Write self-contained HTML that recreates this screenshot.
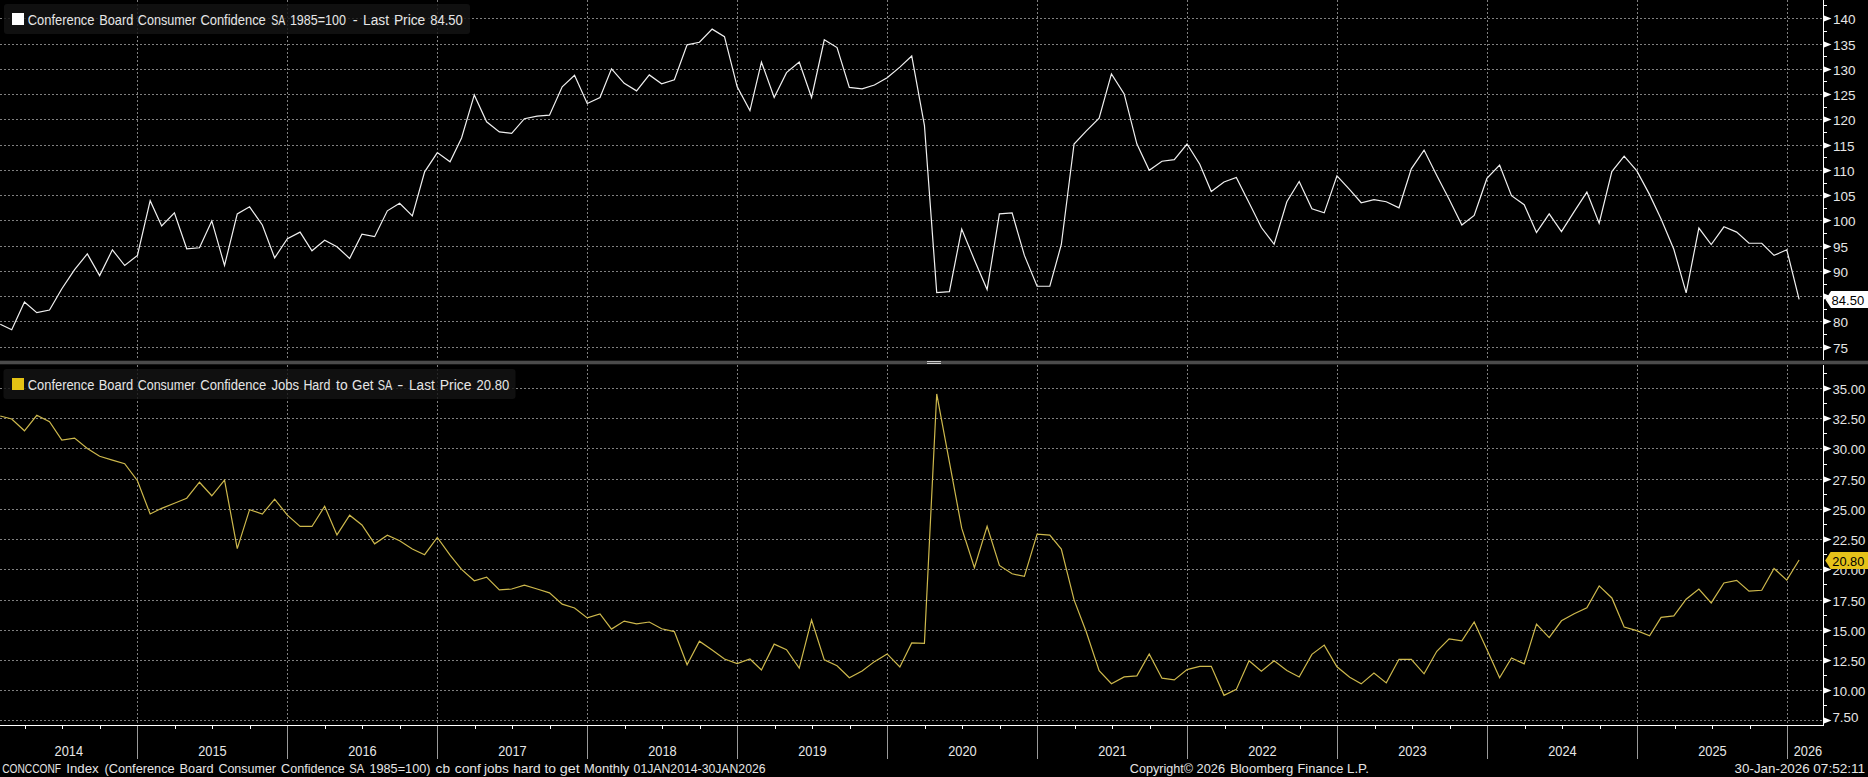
<!DOCTYPE html>
<html><head><meta charset="utf-8"><title>Bloomberg chart</title>
<style>html,body{margin:0;padding:0;background:#000;} svg{display:block;} text{font-family:"Liberation Sans", sans-serif;}</style>
</head><body>
<svg width="1868" height="777" viewBox="0 0 1868 777">
<rect x="0" y="0" width="1868" height="777" fill="#000"/>

<path d="M0 18.5H1823 M0 44.5H1823 M0 69.5H1823 M0 94.5H1823 M0 119.5H1823 M0 145.5H1823 M0 170.5H1823 M0 195.5H1823 M0 220.5H1823 M0 246.5H1823 M0 271.5H1823 M0 296.5H1823 M0 321.5H1823 M0 347.5H1823 M0 388.5H1823 M0 418.5H1823 M0 448.5H1823 M0 479.5H1823 M0 509.5H1823 M0 539.5H1823 M0 569.5H1823 M0 600.5H1823 M0 630.5H1823 M0 660.5H1823 M0 690.5H1823 M0 720.5H1823" stroke="#808080" stroke-width="1" stroke-dasharray="2 2" fill="none"/>
<path d="M137.5 0V360 M137.5 365V725 M287.5 0V360 M287.5 365V725 M437.5 0V360 M437.5 365V725 M587.5 0V360 M587.5 365V725 M737.5 0V360 M737.5 365V725 M887.5 0V360 M887.5 365V725 M1037.5 0V360 M1037.5 365V725 M1187.5 0V360 M1187.5 365V725 M1337.5 0V360 M1337.5 365V725 M1487.5 0V360 M1487.5 365V725 M1637.5 0V360 M1637.5 365V725 M1787.5 0V360 M1787.5 365V725" stroke="#808080" stroke-width="1" stroke-dasharray="2 2" fill="none"/>
<rect x="4" y="4" width="466" height="30" rx="3" fill="#141414" fill-opacity="0.82"/>
<rect x="3.5" y="369" width="512" height="30" rx="3" fill="#141414" fill-opacity="0.82"/>
<rect x="12" y="13" width="12" height="12" fill="#ffffff"/>
<text x="27.8" y="24.5" font-size="14" fill="#e6e6e6" textLength="66.7" lengthAdjust="spacingAndGlyphs">Conference</text><text x="99.2" y="24.5" font-size="14" fill="#e6e6e6" textLength="34.1" lengthAdjust="spacingAndGlyphs">Board</text><text x="137.8" y="24.5" font-size="14" fill="#e6e6e6" textLength="58.2" lengthAdjust="spacingAndGlyphs">Consumer</text><text x="200.4" y="24.5" font-size="14" fill="#e6e6e6" textLength="65.4" lengthAdjust="spacingAndGlyphs">Confidence</text><text x="271.2" y="24.5" font-size="14" fill="#e6e6e6" textLength="14.0" lengthAdjust="spacingAndGlyphs">SA</text><text x="289.9" y="24.5" font-size="14" fill="#e6e6e6" textLength="56.0" lengthAdjust="spacingAndGlyphs">1985=100</text><text x="352.7" y="24.5" font-size="14" fill="#e6e6e6" textLength="4.9" lengthAdjust="spacingAndGlyphs">-</text><text x="363.1" y="24.5" font-size="14" fill="#e6e6e6" textLength="25.9" lengthAdjust="spacingAndGlyphs">Last</text><text x="393.9" y="24.5" font-size="14" fill="#e6e6e6" textLength="31.4" lengthAdjust="spacingAndGlyphs">Price</text><text x="430.2" y="24.5" font-size="14" fill="#e6e6e6" textLength="32.6" lengthAdjust="spacingAndGlyphs">84.50</text>
<rect x="12" y="378" width="12" height="12" fill="#e3c214"/>
<text x="27.8" y="389.5" font-size="14" fill="#e6e6e6" textLength="66.6" lengthAdjust="spacingAndGlyphs">Conference</text><text x="98.7" y="389.5" font-size="14" fill="#e6e6e6" textLength="34.4" lengthAdjust="spacingAndGlyphs">Board</text><text x="137.7" y="389.5" font-size="14" fill="#e6e6e6" textLength="57.6" lengthAdjust="spacingAndGlyphs">Consumer</text><text x="200.3" y="389.5" font-size="14" fill="#e6e6e6" textLength="65.9" lengthAdjust="spacingAndGlyphs">Confidence</text><text x="271.4" y="389.5" font-size="14" fill="#e6e6e6" textLength="27.6" lengthAdjust="spacingAndGlyphs">Jobs</text><text x="303.4" y="389.5" font-size="14" fill="#e6e6e6" textLength="26.9" lengthAdjust="spacingAndGlyphs">Hard</text><text x="336.1" y="389.5" font-size="14" fill="#e6e6e6" textLength="11.6" lengthAdjust="spacingAndGlyphs">to</text><text x="352.1" y="389.5" font-size="14" fill="#e6e6e6" textLength="21.4" lengthAdjust="spacingAndGlyphs">Get</text><text x="377.8" y="389.5" font-size="14" fill="#e6e6e6" textLength="14.5" lengthAdjust="spacingAndGlyphs">SA</text><text x="397.3" y="389.5" font-size="14" fill="#e6e6e6" textLength="6.1" lengthAdjust="spacingAndGlyphs">-</text><text x="409.1" y="389.5" font-size="14" fill="#e6e6e6" textLength="25.6" lengthAdjust="spacingAndGlyphs">Last</text><text x="439.8" y="389.5" font-size="14" fill="#e6e6e6" textLength="31.8" lengthAdjust="spacingAndGlyphs">Price</text><text x="476.6" y="389.5" font-size="14" fill="#e6e6e6" textLength="32.6" lengthAdjust="spacingAndGlyphs">20.80</text>
<svg x="0" y="0" width="1823" height="360" overflow="hidden"><polyline points="0.23,324.22 11.73,329.78 24.47,301.95 36.79,312.58 49.52,310.04 61.85,288.79 74.58,269.55 87.32,253.86 99.64,275.63 112.38,249.81 124.70,265.50 137.44,255.38 150.17,200.72 161.67,226.02 174.41,212.86 186.73,248.80 199.47,247.79 211.79,220.96 224.52,265.50 237.26,213.88 249.58,206.79 262.32,225.01 274.64,257.91 287.38,238.68 300.08,232.10 311.96,250.82 324.66,240.20 336.95,246.78 349.65,258.42 361.94,234.12 374.64,236.65 387.34,210.84 399.63,203.25 412.33,215.90 424.62,171.86 437.32,152.63 450.05,161.74 461.56,137.95 474.29,94.93 486.61,121.76 499.35,131.88 511.67,133.40 524.41,118.72 537.14,116.19 549.47,115.18 562.20,86.83 574.53,75.19 587.26,103.53 600.00,97.46 611.50,68.86 624.23,83.29 636.56,90.88 649.29,74.94 661.61,83.79 674.35,79.74 687.08,44.82 699.41,42.29 712.14,29.13 724.47,36.72 737.20,86.83 749.94,110.62 761.44,62.03 774.17,97.46 786.50,72.66 799.23,62.03 811.56,97.46 824.29,39.76 837.03,47.60 849.35,87.34 862.09,88.86 874.41,85.06 887.14,77.72 899.85,67.09 911.73,55.96 924.43,125.30 936.72,292.58 949.42,291.57 961.71,229.06 974.41,259.94 987.11,289.55 999.40,213.88 1012.10,212.86 1024.39,255.38 1037.09,286.26 1049.82,286.26 1061.32,244.50 1074.06,144.03 1086.38,130.87 1099.12,118.21 1111.44,73.92 1124.17,93.92 1136.91,144.03 1149.23,170.35 1161.97,161.24 1174.29,159.72 1187.03,144.03 1199.76,164.27 1211.26,191.60 1224.00,181.99 1236.32,177.43 1249.06,202.74 1261.38,227.54 1274.12,244.24 1286.85,201.73 1299.18,181.48 1311.91,208.81 1324.23,212.86 1336.97,175.91 1349.70,189.58 1361.21,202.74 1373.94,199.70 1386.26,201.73 1399.00,207.80 1411.32,168.83 1424.06,150.10 1436.79,175.41 1449.12,199.20 1461.85,225.01 1474.18,215.39 1486.91,178.44 1499.61,165.03 1511.49,195.65 1524.19,204.76 1536.48,232.60 1549.18,213.88 1561.47,231.59 1574.17,211.60 1586.87,192.11 1599.16,223.24 1611.86,171.61 1624.15,156.17 1636.85,170.85 1649.59,194.64 1661.09,218.94 1673.82,249.31 1686.15,292.84 1698.88,228.05 1711.21,244.50 1723.94,226.78 1736.68,232.10 1749.00,243.23 1761.74,243.23 1774.06,255.38 1786.79,249.81 1799.12,299.42" fill="none" stroke="#f0f0f0" stroke-width="1.2" stroke-linejoin="miter"/></svg>
<svg x="0" y="365" width="1823" height="360" overflow="hidden"><g transform="translate(0,-365)"><polyline points="0.23,416.04 11.73,418.94 24.47,430.78 36.79,415.32 49.52,421.60 61.85,440.08 74.58,438.15 87.32,448.42 99.64,456.27 112.38,460.13 124.70,463.76 137.44,480.67 150.17,514.01 161.67,508.33 174.41,503.26 186.73,498.19 199.47,482.24 211.79,495.77 224.52,480.07 237.26,548.68 249.58,509.66 262.32,514.01 274.64,499.15 287.38,515.10 300.08,526.45 311.96,526.45 324.66,506.28 336.95,534.91 349.65,515.22 361.94,525.00 374.64,543.85 387.34,535.27 399.63,540.71 412.33,549.04 424.62,554.72 437.32,537.45 450.05,555.20 461.56,569.34 474.29,580.81 486.61,577.07 499.35,589.87 511.67,589.03 524.41,585.16 537.14,589.03 549.47,592.89 562.20,604.13 574.53,607.99 587.26,617.90 600.00,613.91 611.50,629.13 624.23,621.04 636.56,623.82 649.29,622.01 661.61,628.77 674.35,631.55 687.08,664.77 699.41,641.21 712.14,649.91 724.47,658.97 737.20,663.56 749.94,658.97 761.44,669.96 774.17,644.11 786.50,649.67 799.23,668.03 811.56,619.95 824.29,659.82 837.03,665.74 849.35,677.70 862.09,670.93 874.41,661.63 887.14,653.90 899.85,666.94 911.73,642.90 924.43,643.39 936.72,393.94 949.42,462.19 961.71,528.14 974.41,567.65 987.11,526.21 999.40,565.47 1012.10,573.81 1024.39,576.34 1037.09,534.06 1049.82,535.15 1061.32,549.04 1074.06,599.90 1086.38,632.27 1099.12,670.57 1111.44,683.74 1124.17,676.85 1136.91,675.88 1149.23,653.90 1161.97,678.18 1174.29,679.87 1187.03,669.60 1199.76,666.34 1211.26,666.34 1224.00,695.33 1236.32,689.41 1249.06,660.78 1261.38,671.17 1274.12,660.78 1286.85,670.57 1299.18,676.97 1311.91,654.38 1324.23,645.08 1336.97,666.82 1349.70,677.33 1361.21,683.86 1373.94,673.10 1386.26,682.89 1399.00,659.33 1411.32,659.33 1424.06,673.83 1436.79,651.24 1449.12,638.80 1461.85,640.85 1474.18,622.01 1486.91,649.43 1499.61,677.70 1511.49,658.00 1524.19,663.80 1536.48,624.06 1549.18,637.59 1561.47,620.80 1574.17,613.79 1586.87,607.87 1599.16,585.89 1611.86,597.97 1624.15,626.96 1636.85,630.58 1649.59,635.78 1661.09,617.42 1673.82,615.97 1686.15,599.18 1698.88,589.03 1711.21,602.92 1723.94,582.99 1736.68,580.33 1749.00,591.08 1761.74,590.24 1774.06,568.49 1786.79,580.09 1799.12,560.04" fill="none" stroke="#cdb84c" stroke-width="1.2" stroke-linejoin="miter"/></g></svg>
<rect x="0" y="360.7" width="1868" height="3.6" fill="#4b4b4b"/>
<rect x="927" y="361" width="14" height="1" fill="#cccccc"/><rect x="927" y="363" width="14" height="1" fill="#cccccc"/>
<rect x="1823" y="0" width="1" height="360" fill="#fff"/>
<rect x="1823" y="365" width="1" height="361" fill="#fff"/>
<path d="M1823 5.5H1827 M1823 31.5H1827 M1823 56.5H1827 M1823 81.5H1827 M1823 107.5H1827 M1823 132.5H1827 M1823 157.5H1827 M1823 183.5H1827 M1823 208.5H1827 M1823 233.5H1827 M1823 258.5H1827 M1823 284.5H1827 M1823 309.5H1827 M1823 334.5H1827 M1823 373.5H1827 M1823 403.5H1827 M1823 433.5H1827 M1823 464.5H1827 M1823 494.5H1827 M1823 524.5H1827 M1823 554.5H1827 M1823 584.5H1827 M1823 615.5H1827 M1823 645.5H1827 M1823 675.5H1827 M1823 705.5H1827" stroke="#fff" stroke-width="1" fill="none"/>
<path d="M1824 15.5L1831.5 18.5L1824 21.5Z M1824 41.5L1831.5 44.5L1824 47.5Z M1824 66.5L1831.5 69.5L1824 72.5Z M1824 91.5L1831.5 94.5L1824 97.5Z M1824 116.5L1831.5 119.5L1824 122.5Z M1824 142.5L1831.5 145.5L1824 148.5Z M1824 167.5L1831.5 170.5L1824 173.5Z M1824 192.5L1831.5 195.5L1824 198.5Z M1824 217.5L1831.5 220.5L1824 223.5Z M1824 243.5L1831.5 246.5L1824 249.5Z M1824 268.5L1831.5 271.5L1824 274.5Z M1824 293.5L1831.5 296.5L1824 299.5Z M1824 318.5L1831.5 321.5L1824 324.5Z M1824 344.5L1831.5 347.5L1824 350.5Z M1824 385.5L1831.5 388.5L1824 391.5Z M1824 415.5L1831.5 418.5L1824 421.5Z M1824 445.5L1831.5 448.5L1824 451.5Z M1824 476.5L1831.5 479.5L1824 482.5Z M1824 506.5L1831.5 509.5L1824 512.5Z M1824 536.5L1831.5 539.5L1824 542.5Z M1824 566.5L1831.5 569.5L1824 572.5Z M1824 597.5L1831.5 600.5L1824 603.5Z M1824 627.5L1831.5 630.5L1824 633.5Z M1824 657.5L1831.5 660.5L1824 663.5Z M1824 687.5L1831.5 690.5L1824 693.5Z M1824 717.5L1831.5 720.5L1824 723.5Z" fill="#fff"/>
<text x="1833.1" y="24.0" font-size="13.5" fill="#e6e6e6">140</text>
<text x="1833.1" y="50.0" font-size="13.5" fill="#e6e6e6">135</text>
<text x="1833.1" y="75.0" font-size="13.5" fill="#e6e6e6">130</text>
<text x="1833.1" y="100.0" font-size="13.5" fill="#e6e6e6">125</text>
<text x="1833.1" y="125.0" font-size="13.5" fill="#e6e6e6">120</text>
<text x="1833.1" y="151.0" font-size="13.5" fill="#e6e6e6">115</text>
<text x="1833.1" y="176.0" font-size="13.5" fill="#e6e6e6">110</text>
<text x="1833.1" y="201.0" font-size="13.5" fill="#e6e6e6">105</text>
<text x="1833.1" y="226.0" font-size="13.5" fill="#e6e6e6">100</text>
<text x="1833.1" y="252.0" font-size="13.5" fill="#e6e6e6">95</text>
<text x="1833.1" y="277.0" font-size="13.5" fill="#e6e6e6">90</text>
<text x="1833.1" y="327.0" font-size="13.5" fill="#e6e6e6">80</text>
<text x="1833.1" y="353.0" font-size="13.5" fill="#e6e6e6">75</text>
<text x="1832.4" y="394.0" font-size="13.5" fill="#e6e6e6" textLength="33.0" lengthAdjust="spacingAndGlyphs">35.00</text>
<text x="1832.4" y="424.0" font-size="13.5" fill="#e6e6e6" textLength="33.0" lengthAdjust="spacingAndGlyphs">32.50</text>
<text x="1832.4" y="454.0" font-size="13.5" fill="#e6e6e6" textLength="33.0" lengthAdjust="spacingAndGlyphs">30.00</text>
<text x="1832.4" y="485.0" font-size="13.5" fill="#e6e6e6" textLength="33.0" lengthAdjust="spacingAndGlyphs">27.50</text>
<text x="1832.4" y="515.0" font-size="13.5" fill="#e6e6e6" textLength="33.0" lengthAdjust="spacingAndGlyphs">25.00</text>
<text x="1832.4" y="545.0" font-size="13.5" fill="#e6e6e6" textLength="33.0" lengthAdjust="spacingAndGlyphs">22.50</text>
<text x="1832.4" y="575.0" font-size="13.5" fill="#e6e6e6" textLength="33.0" lengthAdjust="spacingAndGlyphs">20.00</text>
<text x="1832.4" y="606.0" font-size="13.5" fill="#e6e6e6" textLength="33.0" lengthAdjust="spacingAndGlyphs">17.50</text>
<text x="1832.4" y="636.0" font-size="13.5" fill="#e6e6e6" textLength="33.0" lengthAdjust="spacingAndGlyphs">15.00</text>
<text x="1832.4" y="666.0" font-size="13.5" fill="#e6e6e6" textLength="33.0" lengthAdjust="spacingAndGlyphs">12.50</text>
<text x="1832.4" y="696.0" font-size="13.5" fill="#e6e6e6" textLength="33.0" lengthAdjust="spacingAndGlyphs">10.00</text>
<text x="1832.4" y="721.6" font-size="13.5" fill="#e6e6e6" textLength="26.0" lengthAdjust="spacingAndGlyphs">7.50</text>
<path d="M1825.5 299.5L1831 291H1868V308H1831Z" fill="#ffffff"/>
<text x="1831.6" y="305" font-size="13.5" fill="#000" textLength="32.6" lengthAdjust="spacingAndGlyphs">84.50</text>
<path d="M1825.2 560.5L1830.6 552H1868V569H1830.6Z" fill="#e5c21a"/>
<text x="1832.3" y="565.6" font-size="13.5" fill="#000" textLength="32" lengthAdjust="spacingAndGlyphs">20.80</text>
<rect x="0" y="725" width="1824" height="1" fill="#fff"/>
<path d="M25.5 726V729 M62.5 726V729 M100.5 726V729 M175.5 726V729 M212.5 726V729 M250.5 726V729 M325.5 726V729 M362.5 726V729 M400.5 726V729 M475.5 726V729 M512.5 726V729 M550.5 726V729 M625.5 726V729 M662.5 726V729 M700.5 726V729 M775.5 726V729 M812.5 726V729 M850.5 726V729 M925.5 726V729 M962.5 726V729 M1000.5 726V729 M1075.5 726V729 M1112.5 726V729 M1150.5 726V729 M1225.5 726V729 M1262.5 726V729 M1300.5 726V729 M1375.5 726V729 M1412.5 726V729 M1450.5 726V729 M1525.5 726V729 M1562.5 726V729 M1600.5 726V729 M1675.5 726V729 M1712.5 726V729 M1750.5 726V729" stroke="#fff" stroke-width="1" fill="none"/>
<path d="M137.5 726V759 M287.5 726V759 M437.5 726V759 M587.5 726V759 M737.5 726V759 M887.5 726V759 M1037.5 726V759 M1187.5 726V759 M1337.5 726V759 M1487.5 726V759 M1637.5 726V759 M1787.5 726V759" stroke="#9a9a9a" stroke-width="1" fill="none"/>
<text x="68.8" y="755.7" font-size="13.8" fill="#e6e6e6" text-anchor="middle" textLength="28.5" lengthAdjust="spacingAndGlyphs">2014</text>
<text x="212.5" y="755.7" font-size="13.8" fill="#e6e6e6" text-anchor="middle" textLength="28.5" lengthAdjust="spacingAndGlyphs">2015</text>
<text x="362.5" y="755.7" font-size="13.8" fill="#e6e6e6" text-anchor="middle" textLength="28.5" lengthAdjust="spacingAndGlyphs">2016</text>
<text x="512.5" y="755.7" font-size="13.8" fill="#e6e6e6" text-anchor="middle" textLength="28.5" lengthAdjust="spacingAndGlyphs">2017</text>
<text x="662.5" y="755.7" font-size="13.8" fill="#e6e6e6" text-anchor="middle" textLength="28.5" lengthAdjust="spacingAndGlyphs">2018</text>
<text x="812.5" y="755.7" font-size="13.8" fill="#e6e6e6" text-anchor="middle" textLength="28.5" lengthAdjust="spacingAndGlyphs">2019</text>
<text x="962.5" y="755.7" font-size="13.8" fill="#e6e6e6" text-anchor="middle" textLength="28.5" lengthAdjust="spacingAndGlyphs">2020</text>
<text x="1112.5" y="755.7" font-size="13.8" fill="#e6e6e6" text-anchor="middle" textLength="28.5" lengthAdjust="spacingAndGlyphs">2021</text>
<text x="1262.5" y="755.7" font-size="13.8" fill="#e6e6e6" text-anchor="middle" textLength="28.5" lengthAdjust="spacingAndGlyphs">2022</text>
<text x="1412.5" y="755.7" font-size="13.8" fill="#e6e6e6" text-anchor="middle" textLength="28.5" lengthAdjust="spacingAndGlyphs">2023</text>
<text x="1562.5" y="755.7" font-size="13.8" fill="#e6e6e6" text-anchor="middle" textLength="28.5" lengthAdjust="spacingAndGlyphs">2024</text>
<text x="1712.5" y="755.7" font-size="13.8" fill="#e6e6e6" text-anchor="middle" textLength="28.5" lengthAdjust="spacingAndGlyphs">2025</text>
<text x="1808.0" y="755.7" font-size="13.8" fill="#e6e6e6" text-anchor="middle" textLength="28.5" lengthAdjust="spacingAndGlyphs">2026</text>
<text x="2.2" y="773" font-size="13.5" fill="#e6e6e6" textLength="58.9" lengthAdjust="spacingAndGlyphs">CONCCONF</text><text x="66.2" y="773" font-size="13.5" fill="#e6e6e6" textLength="32.5" lengthAdjust="spacingAndGlyphs">Index</text><text x="104.5" y="773" font-size="13.5" fill="#e6e6e6" textLength="70.1" lengthAdjust="spacingAndGlyphs">(Conference</text><text x="179.6" y="773" font-size="13.5" fill="#e6e6e6" textLength="34.0" lengthAdjust="spacingAndGlyphs">Board</text><text x="218.4" y="773" font-size="13.5" fill="#e6e6e6" textLength="57.6" lengthAdjust="spacingAndGlyphs">Consumer</text><text x="281.1" y="773" font-size="13.5" fill="#e6e6e6" textLength="63.8" lengthAdjust="spacingAndGlyphs">Confidence</text><text x="349.3" y="773" font-size="13.5" fill="#e6e6e6" textLength="15.1" lengthAdjust="spacingAndGlyphs">SA</text><text x="369.4" y="773" font-size="13.5" fill="#e6e6e6" textLength="61.1" lengthAdjust="spacingAndGlyphs">1985=100)</text><text x="435.6" y="773" font-size="13.5" fill="#e6e6e6" textLength="14.4" lengthAdjust="spacingAndGlyphs">cb</text><text x="454.7" y="773" font-size="13.5" fill="#e6e6e6" textLength="26.3" lengthAdjust="spacingAndGlyphs">conf</text><text x="483.9" y="773" font-size="13.5" fill="#e6e6e6" textLength="24.9" lengthAdjust="spacingAndGlyphs">jobs</text><text x="513.2" y="773" font-size="13.5" fill="#e6e6e6" textLength="27.6" lengthAdjust="spacingAndGlyphs">hard</text><text x="544.5" y="773" font-size="13.5" fill="#e6e6e6" textLength="11.6" lengthAdjust="spacingAndGlyphs">to</text><text x="559.8" y="773" font-size="13.5" fill="#e6e6e6" textLength="20.0" lengthAdjust="spacingAndGlyphs">get</text><text x="584.1" y="773" font-size="13.5" fill="#e6e6e6" textLength="45.1" lengthAdjust="spacingAndGlyphs">Monthly</text><text x="633.6" y="773" font-size="13.5" fill="#e6e6e6" textLength="132.0" lengthAdjust="spacingAndGlyphs">01JAN2014-30JAN2026</text>
<text x="1129.8" y="773" font-size="13.5" fill="#e6e6e6" textLength="63.2" lengthAdjust="spacingAndGlyphs">Copyright©</text><text x="1196.6" y="773" font-size="13.5" fill="#e6e6e6" textLength="28.4" lengthAdjust="spacingAndGlyphs">2026</text><text x="1230.0" y="773" font-size="13.5" fill="#e6e6e6" textLength="63.2" lengthAdjust="spacingAndGlyphs">Bloomberg</text><text x="1297.5" y="773" font-size="13.5" fill="#e6e6e6" textLength="45.8" lengthAdjust="spacingAndGlyphs">Finance</text><text x="1347.0" y="773" font-size="13.5" fill="#e6e6e6" textLength="22.0" lengthAdjust="spacingAndGlyphs">L.P.</text>
<text x="1734.6" y="773" font-size="13.5" fill="#e6e6e6" textLength="75.0" lengthAdjust="spacingAndGlyphs">30-Jan-2026</text><text x="1813.3" y="773" font-size="13.5" fill="#e6e6e6" textLength="51.9" lengthAdjust="spacingAndGlyphs">07:52:11</text>
</svg>
</body></html>
